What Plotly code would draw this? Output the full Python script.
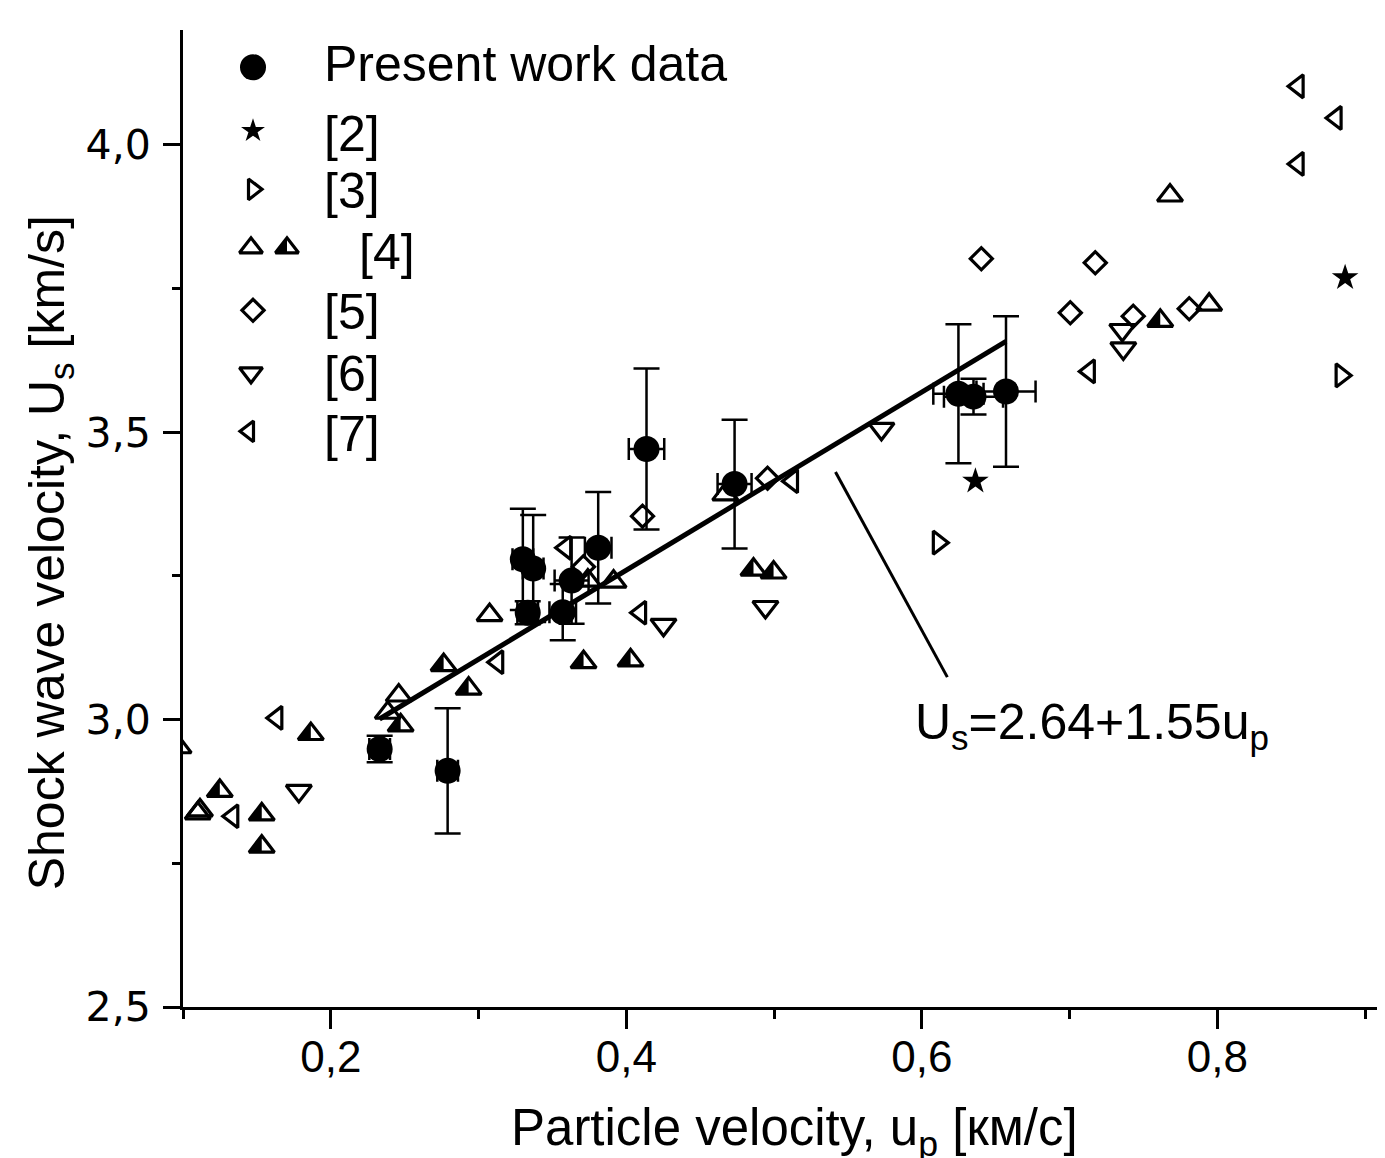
import math
import plotly.graph_objects as go

# ---------------- data ----------------
# Present work data (filled circles with error bars)
pw_x = [0.2331, 0.2791, 0.3300, 0.3370, 0.3333, 0.3570, 0.3630, 0.3810, 0.4137, 0.4733, 0.6248, 0.6350, 0.6570]
pw_y = [2.949, 2.911, 3.279, 3.263, 3.186, 3.187, 3.242, 3.299, 3.471, 3.410, 3.567, 3.562, 3.571]
pw_xerr = [0.007, 0.007, 0.007, 0.007, 0.007, 0.009, 0.0115, 0.009, 0.012, 0.0115, 0.017, 0.020, 0.020]
pw_yerr = [0.023, 0.109, 0.088, 0.093, 0.020, 0.049, 0.075, 0.097, 0.140, 0.112, 0.121, 0.031, 0.131]

# [2] stars
r2_x = [0.6363, 0.8865]
r2_y = [3.415, 3.769]
# [3] triangle-right
r3_x = [0.6112, 0.8838]
r3_y = [3.308, 3.599]
# [4] open triangles
r4o_x = [0.097, 0.110, 0.1115, 0.2386, 0.246, 0.3075, 0.374, 0.3914, 0.467, 0.768, 0.7945]
r4o_y = [2.952, 2.837, 2.842, 3.012, 3.042, 3.182, 3.242, 3.240, 3.392, 3.912, 3.722]
# [4] half-filled triangles
r4h_x = [0.1249, 0.1533, 0.1533, 0.1865, 0.2473, 0.2764, 0.2933, 0.3711, 0.4029, 0.4861, 0.4997, 0.7614]
r4h_y = [2.876, 2.835, 2.779, 2.975, 2.990, 3.095, 3.054, 3.100, 3.103, 3.261, 3.256, 3.694]
# [5] diamonds
r5_x = [0.3710, 0.4110, 0.4956, 0.6403, 0.7005, 0.7174, 0.7431, 0.7810]
r5_y = [3.266, 3.354, 3.420, 3.802, 3.708, 3.795, 3.702, 3.715]
# [6] triangle-down
r6_x = [0.1784, 0.4252, 0.4942, 0.5727, 0.7357, 0.7364]
r6_y = [2.876, 3.165, 3.196, 3.506, 3.678, 3.646]
# [7] triangle-left
r7_x = [0.1337, 0.1635, 0.3130, 0.3590, 0.4097, 0.5125, 0.7134, 0.8547, 0.8547, 0.8804]
r7_y = [2.832, 3.003, 3.100, 3.299, 3.186, 3.415, 3.606, 3.967, 4.102, 4.047]

# Linear fit Us = a + b*up
fit_a, fit_b = 2.64, 1.55
fit_x = [0.233, 0.657]
fit_y = [fit_a + fit_b * v for v in fit_x]

# pointer from fit line to equation label
ptr_x = [0.5416, 0.6173]
ptr_y = [3.431, 3.074]

# legend
leg_labels = ["Present work data", "[2]", "[3]", "[4]", "[5]", "[6]", "[7]"]

x_ticks = [0.2, 0.4, 0.6, 0.8]
y_ticks = [2.5, 3.0, 3.5, 4.0]

# ---------------- style ----------------
FONT = "Liberation Sans, Arial, sans-serif"
BLACK = "black"
TRI = 22
TRI_LR = 20
DIA = 17
LW = 3.2

# plot area in page pixels (page has an 8px body margin)
PL, PR, PT, PB = 183, 1385, 30, 999
def px(xp):
    return (xp - PL) / (PR - PL)
def py(yp):
    return (PB - yp) / (PB - PT)

fig = go.Figure()

def open_trace(x, y, symbol, size=TRI, xaxis="x", yaxis="y"):
    return go.Scatter(x=x, y=y, mode="markers", xaxis=xaxis, yaxis=yaxis,
                      marker=dict(symbol=symbol, size=size, color=BLACK,
                                  line=dict(color=BLACK, width=LW)),
                      showlegend=False, hoverinfo="skip")

fig.add_trace(open_trace(r7_x, r7_y, "triangle-left-open", size=TRI_LR))
fig.add_trace(open_trace(r6_x, r6_y, "triangle-down-open"))
fig.add_trace(open_trace(r5_x, r5_y, "diamond-open", size=DIA))
fig.add_trace(open_trace(r4o_x, r4o_y, "triangle-up-open"))
fig.add_trace(open_trace(r4h_x, r4h_y, "triangle-up-open"))
fig.add_trace(open_trace(r3_x, r3_y, "triangle-right-open", size=TRI_LR))
fig.add_trace(go.Scatter(x=r2_x, y=r2_y, mode="markers",
                         marker=dict(symbol="star", size=20, color=BLACK, line=dict(width=0)),
                         showlegend=False, hoverinfo="skip"))

# fit line
fig.add_trace(go.Scatter(x=fit_x, y=fit_y, mode="lines",
                         line=dict(color=BLACK, width=5), showlegend=False, hoverinfo="skip"))

# present work data
fig.add_trace(go.Scatter(
    x=pw_x, y=pw_y, mode="markers",
    marker=dict(symbol="circle", size=26, color=BLACK),
    error_y=dict(type="data", array=pw_yerr, color=BLACK, thickness=2.5, width=13),
    error_x=dict(type="data", array=pw_xerr, color=BLACK, thickness=2.5, width=11),
    showlegend=False, hoverinfo="skip"))

# half fill for [4] filled triangles (left half, pixel-sized shapes anchored on data)
r = TRI / 2.0
rt = r * 2 / math.sqrt(3)
half_path = f"M {-rt:.2f},{-r/2:.2f} L 0,{r:.2f} L 0,{-r/2:.2f} Z"
shapes = []
for hx, hy in zip(r4h_x, r4h_y):
    shapes.append(dict(type="path", xref="x", yref="y", xsizemode="pixel", ysizemode="pixel",
                       xanchor=hx, yanchor=hy, path=half_path,
                       fillcolor=BLACK, line=dict(width=0), layer="below"))

# pointer line
shapes.append(dict(type="line", xref="x", yref="y", x0=ptr_x[0], y0=ptr_y[0], x1=ptr_x[1], y1=ptr_y[1],
                   line=dict(color=BLACK, width=3)))

# ---------------- legend (pixel overlay axes) ----------------
leg_sym_x = 253
leg_rows = [67, 130, 188, 246, 308, 370, 428]
leg_text_x = [322, 322, 322, 357, 322, 322, 322]
leg_text_y = [64, 133, 190, 250, 310, 371, 431]

fig.add_trace(go.Scatter(x=[leg_sym_x], y=[leg_rows[0]], xaxis="x2", yaxis="y2", mode="markers",
                         marker=dict(symbol="circle", size=26, color=BLACK),
                         showlegend=False, hoverinfo="skip"))
fig.add_trace(go.Scatter(x=[leg_sym_x], y=[leg_rows[1]], xaxis="x2", yaxis="y2", mode="markers",
                         marker=dict(symbol="star", size=18, color=BLACK, line=dict(width=0)),
                         showlegend=False, hoverinfo="skip"))
fig.add_trace(open_trace([leg_sym_x], [leg_rows[2]], "triangle-right-open", size=18, xaxis="x2", yaxis="y2"))
fig.add_trace(open_trace([leg_sym_x - 2, 287], [leg_rows[3], leg_rows[3]], "triangle-up-open", size=20, xaxis="x2", yaxis="y2"))
fig.add_trace(open_trace([leg_sym_x], [leg_rows[4]], "diamond-open", size=DIA, xaxis="x2", yaxis="y2"))
fig.add_trace(open_trace([leg_sym_x - 2], [leg_rows[5]], "triangle-down-open", size=20, xaxis="x2", yaxis="y2"))
fig.add_trace(open_trace([leg_sym_x - 4], [leg_rows[6]], "triangle-left-open", size=18, xaxis="x2", yaxis="y2"))
rl = 10.0
rtl = rl * 2 / math.sqrt(3)
leg_half = f"M {-rtl:.2f},{-rl/2:.2f} L 0,{rl:.2f} L 0,{-rl/2:.2f} Z"
shapes.append(dict(type="path", xref="x2", yref="y2", xsizemode="pixel", ysizemode="pixel",
                   xanchor=287, yanchor=leg_rows[3], path=leg_half,
                   fillcolor=BLACK, line=dict(width=0), layer="below"))

annotations = []
for lab, tx, ty in zip(leg_labels, leg_text_x, leg_text_y):
    annotations.append(dict(text=lab, x=px(tx), y=py(ty), xref="paper", yref="paper",
                            xanchor="left", yanchor="middle",
                            showarrow=False, font=dict(family=FONT, size=50, color=BLACK)))

# equation label
annotations.append(dict(text="U<sub>s</sub>=2.64+1.55u<sub>p</sub>", x=px(913), y=py(720),
                        xref="paper", yref="paper",
                        xanchor="left", yanchor="middle", showarrow=False,
                        font=dict(family=FONT, size=50, color=BLACK)))

# axis titles
annotations.append(dict(text="Particle velocity, u<sub>p</sub> [км/с]", x=px(794), y=py(1122),
                        xref="paper", yref="paper",
                        xanchor="center", yanchor="middle", showarrow=False,
                        font=dict(family=FONT, size=51, color=BLACK)))
annotations.append(dict(text="Shock wave velocity, U<sub>s</sub> [km/s]", x=px(50), y=py(549),
                        xref="paper", yref="paper",
                        xanchor="center", yanchor="middle", showarrow=False, textangle=-90,
                        font=dict(family=FONT, size=50, color=BLACK)))

fig.update_layout(
    width=1377, height=1150,
    margin=dict(l=175, r=0, t=22, b=151),
    paper_bgcolor="white", plot_bgcolor="white",
    separators=", ",
    shapes=shapes, annotations=annotations,
    showlegend=False,
    xaxis=dict(range=[0.1, 0.9135], tickvals=x_ticks, tickformat=".1f",
               showgrid=False, zeroline=False, showline=True, linecolor=BLACK, linewidth=3,
               ticks="outside", ticklen=19, tickwidth=2.5, tickcolor=BLACK,
               minor=dict(tickvals=[0.1, 0.3, 0.5, 0.7, 0.9], ticks="outside", ticklen=9,
                          tickwidth=2.5, tickcolor=BLACK, showgrid=False),
               tickfont=dict(family=FONT, size=44, color=BLACK), ticklabelstandoff=-10,
               automargin=False),
    yaxis=dict(range=[2.5, 4.2], tickvals=y_ticks, tickformat=".1f",
               showgrid=False, zeroline=False, showline=True, linecolor=BLACK, linewidth=3,
               ticks="outside", ticklen=17, tickwidth=2.5, tickcolor=BLACK,
               minor=dict(tickvals=[2.75, 3.25, 3.75], ticks="outside", ticklen=8,
                          tickwidth=2.5, tickcolor=BLACK, showgrid=False),
               tickfont=dict(family="DejaVu Sans, sans-serif", size=41, color=BLACK), ticklabelstandoff=4,
               automargin=False),
    xaxis2=dict(overlaying="x", anchor="y2", range=[183, 1385], visible=False, fixedrange=True),
    yaxis2=dict(overlaying="y", anchor="x2", range=[999, 30], visible=False, fixedrange=True),
)

fig.write_html("out.html")
